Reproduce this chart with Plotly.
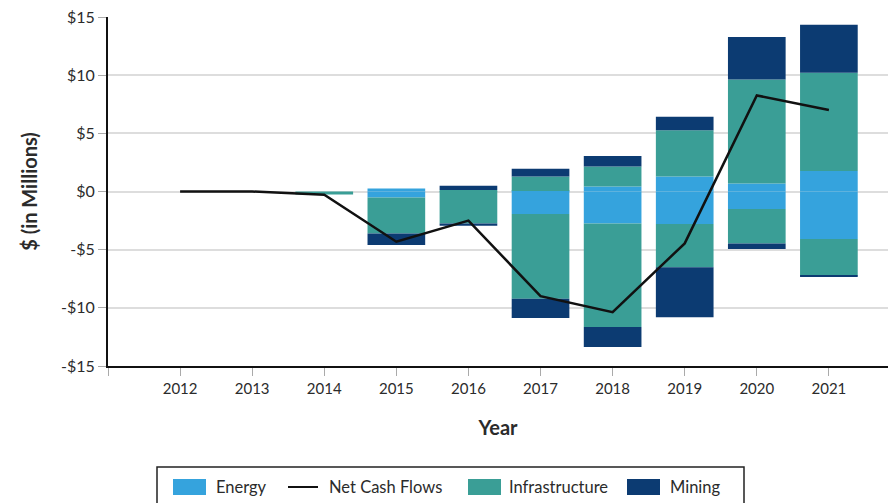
import plotly.graph_objects as go

# ---- data ----
years = [2012, 2013, 2014, 2015, 2016, 2017, 2018, 2019, 2020, 2021]
year_labels = ["2012", "2013", "2014", "2015", "2016", "2017", "2018", "2019", "2020", "2021"]

energy_in = [0, 0, 0, 0.26, 0, 0.05, 0.43, 1.29, 0.69, 1.77]
energy_out = [0, 0, 0, -0.51, 0, -1.94, -2.74, -2.80, -1.51, -4.08]
infra_in = [0, 0, 0, 0, 0.12, 1.23, 1.71, 3.97, 8.94, 8.43]
infra_out = [0, 0, -0.25, -3.09, -2.74, -7.28, -8.91, -3.71, -2.95, -3.14]
mining_in = [0, 0, 0, 0, 0.37, 0.68, 0.92, 1.17, 3.65, 4.14]
mining_out = [0, 0, 0, -1.00, -0.20, -1.66, -1.72, -4.29, -0.48, -0.10]
net_cash_flows = [0, 0, -0.28, -4.32, -2.50, -9.00, -10.37, -4.46, 8.26, 7.00]

y_ticks = [-15, -10, -5, 0, 5, 10, 15]
y_tick_labels = ["-$15", "-$10", "-$5", "$0", "$5", "$10", "$15"]

# ---- styling ----
C_ENERGY = "#35A3DD"
C_INFRA = "#3A9E96"
C_MINING = "#0C3B72"
FONT = "Lato"
TXT = "#2b2b2b"

W, H = 888, 503
ML, MR, MT, MB = 108, 0, 17, 137

fig = go.Figure()

def add_bar(name, vals, color, group):
    fig.add_trace(go.Bar(
        x=years, y=vals, name=name, legendgroup=group,
        marker=dict(color=color, line=dict(width=0)),
        width=0.8, showlegend=False,
    ))

add_bar("Energy", energy_in, C_ENERGY, "energy")
add_bar("Energy", energy_out, C_ENERGY, "energy")
add_bar("Infrastructure", infra_in, C_INFRA, "infra")
add_bar("Infrastructure", infra_out, C_INFRA, "infra")
add_bar("Mining", mining_in, C_MINING, "mining")
add_bar("Mining", mining_out, C_MINING, "mining")

fig.add_trace(go.Scatter(
    x=years, y=net_cash_flows, name="Net Cash Flows", mode="lines",
    line=dict(color="#111111", width=2.5), showlegend=False,
))

# ---- custom legend (boxed, wide swatches) ----
pw = W - ML - MR
ph = H - MT - MB

def px(x):
    return (x - ML) / pw

def py(y):
    return (H - MB - y) / ph

shapes = [dict(type="rect", xref="paper", yref="paper",
               x0=px(157), x1=px(744), y0=py(467), y1=py(540),
               line=dict(color="#222222", width=1.5), fillcolor="rgba(0,0,0,0)")]
annotations = []
legend_items = [
    ("Energy", "rect", C_ENERGY, 173, 214),
    ("Net Cash Flows", "line", "#111111", 288, 327),
    ("Infrastructure", "rect", C_INFRA, 468, 507),
    ("Mining", "rect", C_MINING, 627, 668),
]
for label, kind, color, sx, tx in legend_items:
    if kind == "rect":
        shapes.append(dict(type="rect", xref="paper", yref="paper",
                           x0=px(sx), x1=px(sx + 33), y0=py(495), y1=py(479),
                           line=dict(width=0), fillcolor=color))
    else:
        shapes.append(dict(type="line", xref="paper", yref="paper",
                           x0=px(sx), x1=px(sx + 30), y0=py(487), y1=py(487),
                           line=dict(color=color, width=2)))
    annotations.append(dict(xref="paper", yref="paper", x=px(tx), y=py(487),
                            text=label, showarrow=False, xanchor="left", yanchor="middle",
                            font=dict(family=FONT, size=16.5, color=TXT)))

fig.update_layout(
    width=W, height=H,
    margin=dict(l=ML, r=MR, t=MT, b=MB),
    barmode="relative",
    bargap=0.2,
    plot_bgcolor="white", paper_bgcolor="white",
    font=dict(family=FONT, color=TXT),
    showlegend=False,
    shapes=shapes,
    annotations=annotations,
    xaxis=dict(
        range=[2011, 2021.82],
        tickvals=[2011] + years, ticktext=[""] + year_labels,
        ticks="outside", ticklen=8, tickcolor="#aaaaaa", tickwidth=1,
        showgrid=False, zeroline=False,
        showline=True, linecolor="#111111", linewidth=2,
        tickfont=dict(family=FONT, size=15, color=TXT),
        title=dict(text="<b>Year</b>", font=dict(family=FONT, size=20, color=TXT), standoff=25),
    ),
    yaxis=dict(
        range=[-15, 15],
        tickvals=y_ticks, ticktext=y_tick_labels,
        ticks="outside", ticklen=8, tickcolor="#aaaaaa", tickwidth=1,
        showgrid=True, gridcolor="#dddddd", gridwidth=1.5,
        zeroline=False,
        showline=True, linecolor="#111111", linewidth=2,
        tickfont=dict(family=FONT, size=16, color=TXT),
        title=dict(text="<b>$ (in Millions)</b>", font=dict(family=FONT, size=20, color=TXT), standoff=18),
    ),
)

fig.write_html("out.html", config={"displayModeBar": False},
               post_script="document.body.style.margin='0px';")
